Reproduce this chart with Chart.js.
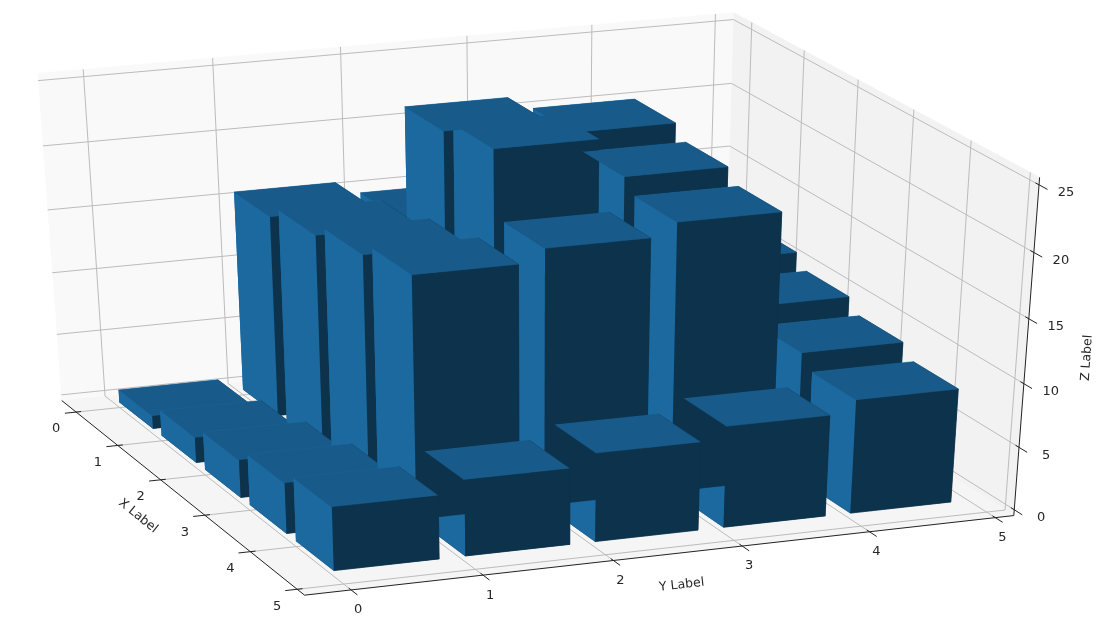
<!DOCTYPE html><html><head><meta charset="utf-8"><script src="https://cdn.jsdelivr.net/npm/chart.js@4"></script>
<style>html,body{margin:0;background:#fff}canvas{display:block}</style></head><body>
<canvas id="c" width="1103" height="625"></canvas>
<script>
// ---- data ----
const xTicks=[0,1,2,3,4,5];
const yTicks=[0,1,2,3,4,5];
const zTicks=[0,5,10,15,20,25];
const rowX0=[1,16,15,14,13];
const rowX1=[2,17,24,23,12];
const rowX2=[3,18,25,22,11];
const rowX3=[4,19,20,21,10];
const rowX4=[5,6,7,8,9];
const barRows=[rowX0,rowX1,rowX2,rowX3,rowX4];
const barSize=0.8;
const xLabel='X Label',yLabel='Y Label',zLabel='Z Label';

// ---- camera fitted to the picture, and axis limits ----
const CAM=[[39.91488,125.0348,-1.000643,119.3413],[26.97573,-10.51062,-12.75986,401.9563],[-0.01429639,0.005597083,-0.001874621,1]];
const XL=[-0.354,5.154],YL=[-0.350,5.148],ZL=[-0.470,25.550];
const depth=(p)=>CAM[2][0]*p[0]+CAM[2][1]*p[1]+CAM[2][2]*p[2]+1;
const proj=(p)=>{const w=depth(p);return {x:(CAM[0][0]*p[0]+CAM[0][1]*p[1]+CAM[0][2]*p[2]+CAM[0][3])/w,y:(CAM[1][0]*p[0]+CAM[1][1]*p[1]+CAM[1][2]*p[2]+CAM[1][3])/w};};

// ---- colours ----
const FACE={top:'#185b8a',bottom:'#113f60',xm:'#1b699f',xp:'#0d324b',ym:'#1b699f',yp:'#0d324b'};
const PANE_X='#f9f9f9',PANE_Y='#f2f2f2',PANE_Z='#f5f5f5',GRID='#bcbcbc',AXIS='#222222';

const face=(pts,color)=>({data:pts.map(proj),showLine:true,fill:'shape',backgroundColor:color,borderColor:color,borderWidth:0.5,pointRadius:0,tension:0,clip:false});
const line=(a,b,color,w)=>({data:[a,b].map(proj),showLine:true,fill:false,borderColor:color,borderWidth:w,pointRadius:0,tension:0,clip:false});

// bar faces, painted in the order of their mean depth
let faces=[];
barRows.forEach((row,i)=>row.forEach((h,j)=>{
  const a=i,b=i+barSize,c=j,d=j+barSize;
  const f=(pts,color)=>faces.push({pts,color,dep:pts.reduce((s,p)=>s+depth(p),0)/4});
  f([[a,c,0],[b,c,0],[b,d,0],[a,d,0]],FACE.bottom);
  f([[a,c,h],[b,c,h],[b,d,h],[a,d,h]],FACE.top);
  f([[a,c,0],[b,c,0],[b,c,h],[a,c,h]],FACE.ym);
  f([[a,d,0],[b,d,0],[b,d,h],[a,d,h]],FACE.yp);
  f([[a,c,0],[a,d,0],[a,d,h],[a,c,h]],FACE.xm);
  f([[b,c,0],[b,d,0],[b,d,h],[b,c,h]],FACE.xp);
}));
faces.sort((p,q)=>q.dep-p.dep);

// painted back to front
const under=[];
under.push(face([[XL[0],YL[0],ZL[0]],[XL[0],YL[1],ZL[0]],[XL[0],YL[1],ZL[1]],[XL[0],YL[0],ZL[1]]],PANE_X));
under.push(face([[XL[0],YL[1],ZL[0]],[XL[1],YL[1],ZL[0]],[XL[1],YL[1],ZL[1]],[XL[0],YL[1],ZL[1]]],PANE_Y));
under.push(face([[XL[0],YL[0],ZL[0]],[XL[1],YL[0],ZL[0]],[XL[1],YL[1],ZL[0]],[XL[0],YL[1],ZL[0]]],PANE_Z));
xTicks.forEach(v=>{
  under.push(line([v,YL[0],ZL[0]],[v,YL[1],ZL[0]],GRID,1));
  under.push(line([v,YL[1],ZL[0]],[v,YL[1],ZL[1]],GRID,1));
  under.push(line([v,YL[0]-0.09,ZL[0]],[v,YL[0]+0.04,ZL[0]],AXIS,1));
});
yTicks.forEach(v=>{
  under.push(line([XL[0],v,ZL[0]],[XL[1],v,ZL[0]],GRID,1));
  under.push(line([XL[0],v,ZL[0]],[XL[0],v,ZL[1]],GRID,1));
  under.push(line([XL[1]-0.05,v,ZL[0]],[XL[1]+0.13,v,ZL[0]],AXIS,1));
});
zTicks.forEach(v=>{
  under.push(line([XL[0],YL[0],v],[XL[0],YL[1],v],GRID,1));
  under.push(line([XL[0],YL[1],v],[XL[1],YL[1],v],GRID,1));
  under.push(line([XL[1]-0.06,YL[1],v],[XL[1]+0.14,YL[1],v],AXIS,1));
});
under.push(line([XL[0],YL[0],ZL[0]],[XL[1],YL[0],ZL[0]],AXIS,1));
under.push(line([XL[1],YL[0],ZL[0]],[XL[1],YL[1],ZL[0]],AXIS,1));
under.push(line([XL[1],YL[1],ZL[0]],[XL[1],YL[1],ZL[1]],AXIS,1));

const painted=under.concat(faces.map(f=>face(f.pts,f.color)));
const datasets=painted.reverse(); // Chart.js paints the first dataset last

const textPlugin={id:'axisText',afterDraw(chart){
  const {ctx,scales:{x:sx,y:sy}}=chart;
  const put=(t,px,py,rot)=>{ctx.save();ctx.translate(sx.getPixelForValue(px),sy.getPixelForValue(py));ctx.rotate(rot||0);ctx.textAlign='center';ctx.textBaseline='middle';ctx.fillText(t,0,0);ctx.restore();};
  ctx.save();ctx.fillStyle='#262626';ctx.font='13px "DejaVu Sans"';
  xTicks.forEach(v=>{const p=proj([v,YL[0],ZL[0]]);put(String(v),p.x-20,p.y+17);});
  yTicks.forEach(v=>{const p=proj([XL[1],v,ZL[0]]);put(String(v),p.x+7,p.y+20);});
  zTicks.forEach(v=>{const p=proj([XL[1],YL[1],v]);put(String(v),p.x+27,p.y+8);});
  ctx.font='12.5px "DejaVu Sans"';
  put(xLabel,138,516,39*Math.PI/180);
  put(yLabel,681.7,585,-6.5*Math.PI/180);
  put(zLabel,1087,358,-86*Math.PI/180);
  ctx.restore();
}};

new Chart(document.getElementById('c'),{type:'scatter',data:{datasets},plugins:[textPlugin],options:{responsive:false,animation:false,events:[],layout:{padding:0},plugins:{legend:{display:false},tooltip:{enabled:false},title:{display:false}},scales:{x:{display:false,min:0,max:1103},y:{display:false,min:0,max:625,reverse:true}}}});
</script></body></html>
